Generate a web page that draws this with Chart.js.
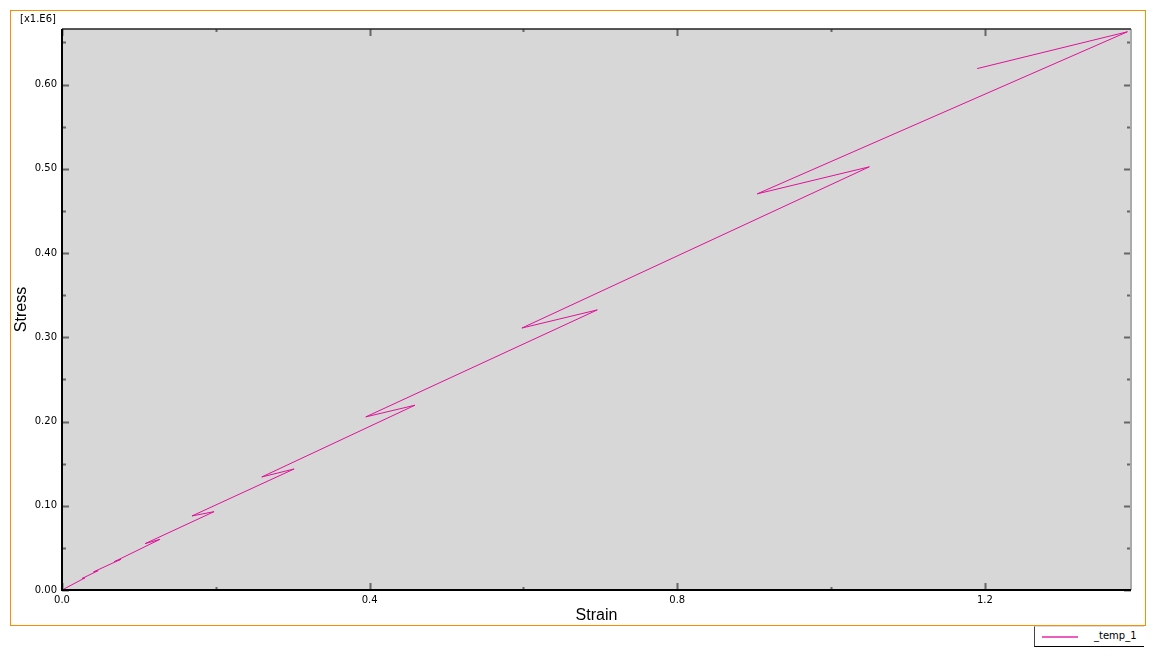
<!DOCTYPE html>
<html>
<head>
<meta charset="utf-8">
<script src="https://cdn.jsdelivr.net/npm/chart.js@4"></script>
<style>
  body { margin: 0; background: #fff; }
  #wrap { position: relative; width: 1156px; height: 659px; }
  #frame { position: absolute; left: 10px; top: 10px; width: 1134px; height: 614px; border: 1px solid #ff8c00; pointer-events: none; }
  #scale { position: absolute; left: 20px; top: 13px; font: 10px "DejaVu Sans", sans-serif; color: #000; }
  #legend { position: absolute; left: 1034px; top: 626px; width: 110px; height: 21px; background: #fff;
    border-left: 1px solid #444; border-bottom: 1px solid #000; border-top: 1px solid #ddd; box-sizing: border-box; }
  #legend .swatch { position: absolute; left: 7px; top: 9px; width: 36px; height: 2px; background: #ee5cbd; }
  #legend .txt { position: absolute; left: 59px; top: 3px; font: 10px "DejaVu Sans", sans-serif; color: #000; }
</style>
</head>
<body>
<div id="wrap">
  <canvas id="chart" width="1156" height="659"></canvas>
  <div id="frame"></div>
  <div id="scale">[x1.E6]</div>
  <div id="legend"><div class="swatch"></div><div class="txt">_temp_1</div></div>
</div>
<script>
// strain / stress (stress in units of 1e6)
var strain = [0, 0.030, 0.026, 0.047, 0.041, 0.0767, 0.068, 0.1275, 0.108, 0.1977, 0.169,
  0.3018, 0.2598, 0.459, 0.395, 0.696, 0.598, 1.0498, 0.904, 1.3854, 1.190];
var stress = [0, 0.0145, 0.0136, 0.0230, 0.0215, 0.0365, 0.0336, 0.0602, 0.0550, 0.0930, 0.0879,
  0.1437, 0.1342, 0.2194, 0.2055, 0.3325, 0.3110, 0.5024, 0.4703, 0.6627, 0.6190];

var xTicks = [0, 0.2, 0.4, 0.6, 0.8, 1.0, 1.2];
var xLabels = ["0.0", "", "0.4", "", "0.8", "", "1.2"];
var yTicks = [0, 0.05, 0.1, 0.15, 0.2, 0.25, 0.3, 0.35, 0.4, 0.45, 0.5, 0.55, 0.6, 0.65];
var yLabels = ["0.00", "", "0.10", "", "0.20", "", "0.30", "", "0.40", "", "0.50", "", "0.60", ""];

var points = [];
for (var i = 0; i < strain.length; i++) {
  points.push({ x: strain[i], y: stress[i] });
}

var plotBox = {
  id: "plotBox",
  beforeDraw: function (chart) {
    var a = chart.chartArea;
    var ctx = chart.ctx;
    ctx.save();
    ctx.fillStyle = "#d7d7d7";
    ctx.fillRect(a.left, a.top, a.right - a.left, a.bottom - a.top);
    ctx.restore();
  },
  afterDraw: function (chart) {
    var a = chart.chartArea;
    var ctx = chart.ctx;
    var xs = chart.scales.x, ys = chart.scales.y;
    ctx.save();
    // tick marks, inside the plot on all four sides
    ctx.strokeStyle = "#666";
    ctx.lineWidth = 2;
    ctx.beginPath();
    xTicks.forEach(function (v, i) {
      var px = Math.round(xs.getPixelForValue(v)) + 0.5;
      var len = xLabels[i] ? 7 : 3;
      ctx.moveTo(px, a.bottom); ctx.lineTo(px, a.bottom - len);
      ctx.moveTo(px, a.top); ctx.lineTo(px, a.top + len);
    });
    yTicks.forEach(function (v, i) {
      var py = Math.round(ys.getPixelForValue(v)) + 0.5;
      var len = yLabels[i] ? 7 : 4;
      ctx.moveTo(a.left, py); ctx.lineTo(a.left + len, py);
      ctx.moveTo(a.right, py); ctx.lineTo(a.right - len, py);
    });
    ctx.stroke();
    // frame
    ctx.strokeStyle = "#aaa";
    ctx.lineWidth = 2;
    ctx.beginPath();
    ctx.moveTo(a.right, a.top); ctx.lineTo(a.right, a.bottom);
    ctx.stroke();
    ctx.strokeStyle = "#222";
    ctx.lineWidth = 1.5;
    ctx.beginPath();
    ctx.moveTo(a.left, a.top); ctx.lineTo(a.right, a.top);
    ctx.stroke();
    ctx.strokeStyle = "#000";
    ctx.lineWidth = 2;
    ctx.beginPath();
    ctx.moveTo(a.left, a.top); ctx.lineTo(a.left, a.bottom); ctx.lineTo(a.right, a.bottom);
    ctx.stroke();
    ctx.restore();
  }
};

var tickFont = { family: "'DejaVu Sans', sans-serif", size: 10 };
var titleFont = { family: "'Liberation Sans', Arial, sans-serif", size: 16 };

new Chart(document.getElementById("chart").getContext("2d"), {
  type: "scatter",
  data: {
    datasets: [{
      label: "_temp_1",
      data: points,
      showLine: true,
      borderColor: "#e0129a",
      borderWidth: 1,
      pointRadius: 0,
      tension: 0,
      fill: false
    }]
  },
  options: {
    responsive: false,
    animation: false,
    devicePixelRatio: 1,
    layout: { padding: { left: 0, top: 29, right: 25, bottom: 0 } },
    plugins: { legend: { display: false }, tooltip: { enabled: false } },
    scales: {
      x: {
        type: "linear",
        min: 0,
        max: 1.39,
        grid: { display: false, drawTicks: false },
        border: { display: false },
        afterBuildTicks: function (scale) { scale.ticks = xTicks.map(function (v) { return { value: v }; }); },
        afterFit: function (scale) { scale.height = 69; },
        ticks: {
          font: tickFont, color: "#000", padding: 4, maxRotation: 0, autoSkip: false,
          callback: function (v, i) { return xLabels[i]; }
        },
        title: { display: true, text: "Strain", font: titleFont, color: "#000", padding: { top: 0, bottom: 34 } }
      },
      y: {
        type: "linear",
        min: 0,
        max: 0.666,
        grid: { display: false, drawTicks: false },
        border: { display: false },
        afterBuildTicks: function (scale) { scale.ticks = yTicks.map(function (v) { return { value: v }; }); },
        afterFit: function (scale) { scale.width = 62; },
        ticks: {
          font: tickFont, color: "#000", padding: 5, autoSkip: false,
          callback: function (v, i) { return yLabels[i]; }
        },
        title: { display: true, text: "Stress", font: titleFont, color: "#000", padding: { top: 12, bottom: 0 } }
      }
    }
  },
  plugins: [plotBox]
});
</script>
</body>
</html>
